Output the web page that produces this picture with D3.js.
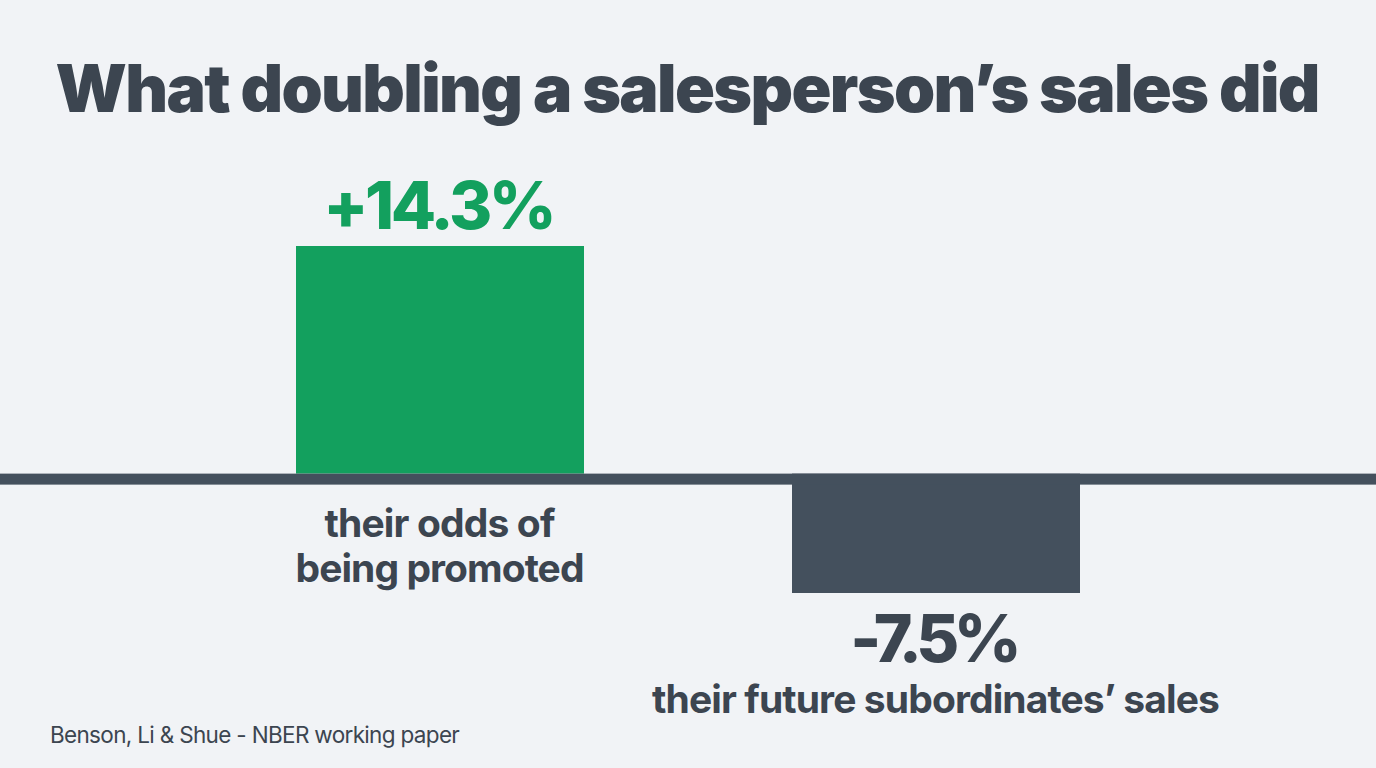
<!DOCTYPE html>
<html>
<head>
<meta charset="utf-8">
<script src="https://cdn.jsdelivr.net/npm/d3@7.9.0/dist/d3.min.js"></script>
<style>
  html, body { margin: 0; padding: 0; background: #f1f3f6; }
  svg { display: block; font-family: Inter, 'Liberation Sans', sans-serif; }
</style>
</head>
<body>
<svg id="chart" width="1376" height="768"></svg>
<script>
const categories = ['promoted', 'subordinates'];
const values = [14.3, -7.5];
const valueLabels = ['+14.3%', '-7.5%'];
const categoryLabels = [['their odds of', 'being promoted'], ['their future subordinates\u2019 sales']];
const title = 'What doubling a salesperson\u2019s sales did';
const source = 'Benson, Li & Shue - NBER working paper';

const width = 1376, height = 768;
const ink = '#3c4550';
const green = '#13a05e';
const slate = '#44505d';

const svg = d3.select('#chart');

svg.append('rect').attr('width', width).attr('height', height).attr('fill', '#f1f3f6');

// keep the font size, tighten or loosen tracking until the text hits the target width
function fitWidth(sel, target) {
  const node = sel.node();
  const n = sel.text().length;
  const w = node.getComputedTextLength();
  const ls = (target - w) / n;
  sel.attr('letter-spacing', ls.toFixed(2));
  if (sel.attr('text-anchor') === 'middle') {
    sel.attr('x', +sel.attr('x') + ls / 2);
  }
}

const x = d3.scaleBand()
  .domain(categories)
  .range([296, 1080])
  .paddingInner(1 - 288 / 496)
  .paddingOuter(0);

const y = d3.scaleLinear()
  .domain([d3.min(values), d3.max(values)])
  .range([593, 246]);

// title
const t = svg.append('text')
  .attr('x', width / 2)
  .attr('y', 112)
  .attr('text-anchor', 'middle')
  .attr('font-size', 66)
  .attr('font-weight', 900)
  .attr('fill', ink)
  .text(title);
fitWidth(t, 1263);

// bars
svg.selectAll('.bar')
  .data(values)
  .join('rect')
  .attr('class', 'bar')
  .attr('x', (d, i) => x(categories[i]))
  .attr('width', x.bandwidth())
  .attr('y', (d) => Math.min(y(d), y(0)))
  .attr('height', (d) => Math.abs(y(d) - y(0)))
  .attr('fill', (d) => (d >= 0 ? green : slate));

// zero line
svg.append('rect')
  .attr('x', 0)
  .attr('width', width)
  .attr('y', y(0))
  .attr('height', 11)
  .attr('fill', slate);

// value labels
const valueWidths = [230, 166];
values.forEach((v, i) => {
  const cx = x(categories[i]) + x.bandwidth() / 2;
  const lbl = svg.append('text')
    .attr('x', cx)
    .attr('y', v >= 0 ? y(v) - 17 : y(v) + 69)
    .attr('text-anchor', 'middle')
    .attr('font-size', 66)
    .attr('font-weight', 800)
    .attr('fill', v >= 0 ? green : ink)
    .text(valueLabels[i]);
  fitWidth(lbl, valueWidths[i]);
});

// category labels
const catBaselines = [537, 713];
const catWidths = [[230, 288], [567]];
values.forEach((v, i) => {
  const cx = x(categories[i]) + x.bandwidth() / 2;
  categoryLabels[i].forEach((line, j) => {
    const lbl = svg.append('text')
      .attr('x', cx)
      .attr('y', catBaselines[i] + j * 45)
      .attr('text-anchor', 'middle')
      .attr('font-size', 39)
      .attr('font-weight', 700)
      .attr('fill', ink)
      .text(line);
    fitWidth(lbl, catWidths[i][j]);
  });
});

// source
const s = svg.append('text')
  .attr('x', 50)
  .attr('y', 743)
  .attr('font-size', 22.5)
  .attr('font-weight', 400)
  .attr('fill', ink)
  .text(source);
fitWidth(s, 409);
</script>
</body>
</html>
